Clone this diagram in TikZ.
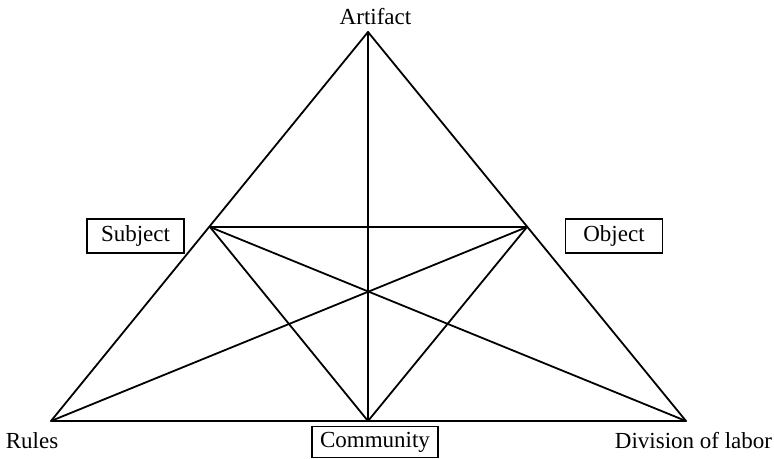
\documentclass[tikz,border=0pt]{standalone}
\usepackage{fontspec}
\setmainfont{Liberation Serif}
\begin{document}
\begin{tikzpicture}[x=1pt,y=-1pt,
  edge/.style={line width=1.8pt, line cap=round, line join=round},
  lbl/.style={font=\fontsize{23}{26}\selectfont, inner sep=0pt},
  boxlbl/.style={draw, line width=1.5pt, font=\fontsize{23}{26}\selectfont, minimum width=97pt, minimum height=34pt, inner xsep=8pt, inner ysep=0pt}]
\useasboundingbox (0,0) rectangle (774,458);
\coordinate (A) at (368,32);
\coordinate (L) at (51,421);
\coordinate (R) at (686,421);
\coordinate (B) at (368,421);
\coordinate (S) at (210,227);
\coordinate (O) at (527,227);
\draw[edge] (A) -- (L) -- (R) -- cycle;
\draw[edge] (A) -- (B);
\draw[edge] (S) -- (O);
\draw[edge] (S) -- (B) -- (O);
\draw[edge] (S) -- (R);
\draw[edge] (O) -- (L);
\node[lbl, anchor=base] (art) at (375.5,24) {Artifact};
\node[boxlbl] (subj) at (135.5,236) {Subject};
\node[boxlbl] (obj) at (614,236) {Object};
\node[boxlbl, minimum height=31pt] (comm) at (375,442) {Community};
\node[lbl, anchor=base] (rules) at (32,448) {Rules};
\node[lbl, anchor=base] (div) at (693.5,448) {Division of labor};
\end{tikzpicture}
\end{document}
